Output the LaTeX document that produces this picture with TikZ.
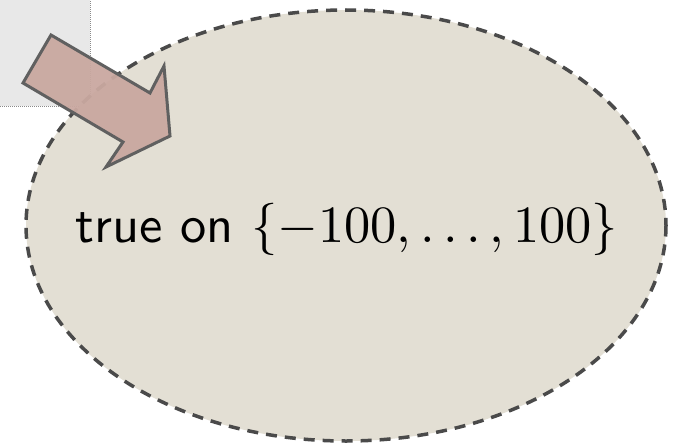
\documentclass[tikz,border=0pt]{standalone}
\definecolor{boxgrey}{HTML}{E8E8E8}
\definecolor{boxline}{HTML}{8A8A8A}
\definecolor{ellfill}{HTML}{E3DFD4}
\definecolor{ellline}{HTML}{4A4A4A}
\definecolor{arrfill}{HTML}{C9A8A0}
\definecolor{arrline}{HTML}{606060}
\tikzset{
  greybox/.style={fill=boxgrey, draw=boxline, densely dotted, line width=1pt},
  bigellipse/.style={fill=ellfill, draw=ellline, line width=3.5pt, dash pattern=on 11pt off 8pt},
  fatarrow/.style={fill=arrfill, fill opacity=0.95, draw=arrline, line width=3pt, line join=miter},
  label/.style={text=black, inner sep=0pt}
}
\begin{document}
\begin{tikzpicture}[x=1pt,y=-1pt]
\useasboundingbox (0,0) rectangle (677,444);
\path[greybox] (-5,-5) rectangle (90,106);
\path[bigellipse] (346,225.5) ellipse [x radius=320, y radius=215.5];
\coordinate (t1) at (51,35);
\coordinate (n1) at (150,93);
\coordinate (h1) at (164,66);
\coordinate (tip) at (170,136);
\coordinate (h2) at (106,167);
\coordinate (n2) at (123,142);
\coordinate (t2) at (23,83);
\path[fatarrow] (t1) -- (n1) -- (h1) -- (tip) -- (h2) -- (n2) -- (t2) -- cycle;
\node[label, anchor=base] (txt) at (347,242) {\scalebox{5.24}{\sffamily true on $\{-100,\ldots,100\}$}};
\end{tikzpicture}
\end{document}
